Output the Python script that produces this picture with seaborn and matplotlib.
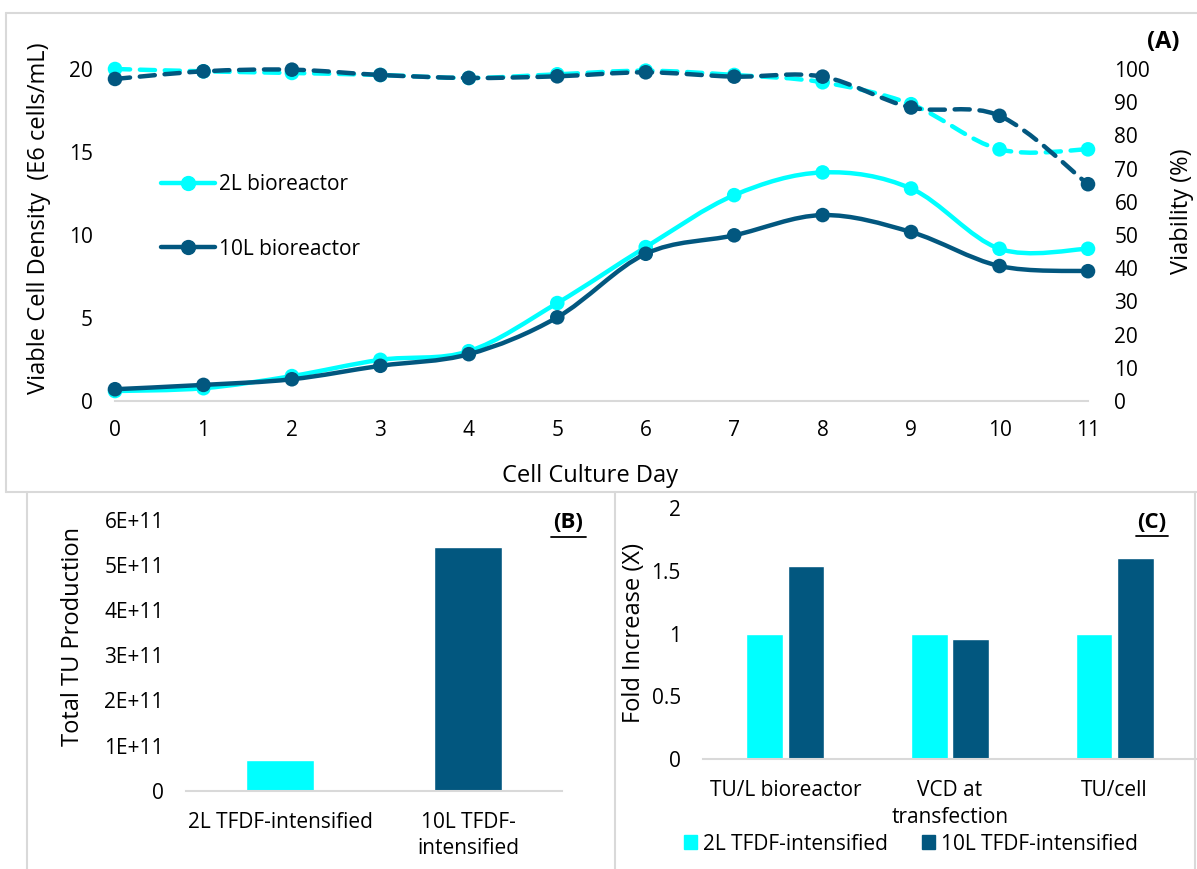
import numpy as np
import pandas as pd
import matplotlib
matplotlib.use('Agg')
import matplotlib.pyplot as plt
import seaborn as sns
from matplotlib.path import Path
from matplotlib.patches import PathPatch, Patch
from matplotlib.lines import Line2D

# Data
days = [0, 1, 2, 3, 4, 5, 6, 7, 8, 9, 10, 11]
vcd_2l = [0.6, 0.77, 1.5, 2.48, 3.0, 5.9, 9.27, 12.4, 13.77, 12.8, 9.17, 9.17]
vcd_10l = [0.71, 0.97, 1.31, 2.12, 2.82, 5.04, 8.87, 9.98, 11.2, 10.18, 8.13, 7.82]
via_2l = [100.0, 99.3, 98.8, 98.2, 97.3, 98.4, 99.5, 98.2, 96.0, 89.4, 75.8, 75.8]
via_10l = [97.0, 99.3, 99.8, 98.2, 97.3, 97.8, 99.0, 97.7, 97.7, 88.4, 85.9, 65.3]

b_categories = ['2L TFDF-intensified', '10L TFDF-\nintensified']
b_values = [6.8e10, 5.4e11]
b_ticks = [0, 1e11, 2e11, 3e11, 4e11, 5e11, 6e11]
b_ticklabels = ['0', '1E+11', '2E+11', '3E+11', '4E+11', '5E+11', '6E+11']

c_metrics = ['TU/L bioreactor', 'VCD at\ntransfection', 'TU/cell']
c_2l = [1.0, 1.0, 1.0]
c_10l = [1.54, 0.958, 1.6]
c_groups = ['2L TFDF-intensified', '10L TFDF-intensified']
c_ticks = [0, 0.5, 1, 1.5, 2]
c_ticklabels = ['0', '0.5', '1', '1.5', '2']

CYAN = '#00FFFF'
DARK = '#02577F'
GRID = '#d9d9d9'
W, H = 1197, 869

sns.set_theme(style='white')
plt.rcParams['font.family'] = ['Open Sans', 'DejaVu Sans']
plt.rcParams['text.color'] = 'black'
plt.rcParams['axes.labelcolor'] = 'black'
plt.rcParams['xtick.color'] = 'black'
plt.rcParams['ytick.color'] = 'black'
FS = 15      # tick labels, legends
FT = 17      # axis titles


def fx(px):
    return px / W


def fy(py):
    return 1 - py / H


def axes_rect(left, top, right, bottom):
    return [fx(left), fy(bottom), fx(right) - fx(left), fy(top) - fy(bottom)]


def smooth_path(x, y):
    """Excel-like smoothed line: cubic Bezier through the points."""
    n = len(x)
    verts = [(x[0], y[0])]
    codes = [Path.MOVETO]
    for i in range(n - 1):
        xa, ya = (x[i - 1], y[i - 1]) if i > 0 else (x[i], y[i])
        xd, yd = (x[i + 2], y[i + 2]) if i + 2 < n else (x[i + 1], y[i + 1])
        c1 = (x[i] + (x[i + 1] - xa) / 6, y[i] + (y[i + 1] - ya) / 6)
        c2 = (x[i + 1] - (xd - x[i]) / 6, y[i + 1] - (yd - y[i]) / 6)
        verts += [c1, c2, (x[i + 1], y[i + 1])]
        codes += [Path.CURVE4] * 3
    return Path(verts, codes)


def draw_series(ax, y, color, dashed, z):
    ls = (0, (3.4, 2.2)) if dashed else '-'
    patch = PathPatch(smooth_path(days, y), fill=False, edgecolor=color, lw=3.2,
                      linestyle=ls, capstyle='round', zorder=z, clip_on=False)
    ax.add_patch(patch)
    sns.scatterplot(x=days, y=y, ax=ax, color=color, s=110, edgecolor='none',
                    zorder=z + 1, clip_on=False, legend=False)


def style_axis(ax):
    for s in ['top', 'left', 'right']:
        ax.spines[s].set_visible(False)
    ax.spines['bottom'].set_color(GRID)
    ax.spines['bottom'].set_linewidth(1.5)
    ax.tick_params(length=0, labelsize=FS)
    ax.grid(False)


fig = plt.figure(figsize=(W / 100, H / 100), dpi=100)

# ---- Panel A ----
ax = fig.add_axes(axes_rect(115, 69, 1088, 401))
ax2 = ax.twinx()
draw_series(ax, vcd_2l, CYAN, False, 2)
draw_series(ax, vcd_10l, DARK, False, 4)
draw_series(ax2, via_2l, CYAN, True, 2)
draw_series(ax2, via_10l, DARK, True, 4)

ax.set_xlim(0, 11)
ax.set_ylim(0, 20)
ax2.set_ylim(0, 100)
ax.set_xticks(days)
ax.set_yticks([0, 5, 10, 15, 20])
ax2.set_yticks(range(0, 101, 10))
style_axis(ax)
style_axis(ax2)
ax2.spines['bottom'].set_visible(False)
ax.tick_params(axis='x', pad=14)
ax.tick_params(axis='y', pad=16)
ax2.tick_params(axis='y', pad=19)
ax.set_xlabel('Cell Culture Day', fontsize=FT)
ax.xaxis.set_label_coords(0.488, -0.19)
ax.set_ylabel('Viable Cell Density  (E6 cells/mL)', fontsize=FT)
ax.yaxis.set_label_coords(-0.066, 0.55)
ax2.set_ylabel('Viability (%)', fontsize=FT, rotation=90)
ax2.yaxis.set_label_coords(1.084, 0.572)

handles = [Line2D([], [], color=CYAN, lw=3.2, marker='o', markersize=10),
           Line2D([], [], color=DARK, lw=3.2, marker='o', markersize=10)]
ax2.legend(handles, ['2L bioreactor', '10L bioreactor'], loc='upper left',
           bbox_to_anchor=(fx(161), fy(174)), bbox_transform=fig.transFigure,
           frameon=False, fontsize=FS, handlelength=2.6, handletextpad=0.2,
           labelspacing=2.1, borderpad=0, borderaxespad=0)
fig.text(fx(1163), fy(42), '(A)', fontsize=FT, fontweight='bold',
         ha='center', va='center')

# ---- Panel B ----
axb = fig.add_axes(axes_rect(186, 520, 562, 790.7))
df_b = pd.DataFrame({'scale': b_categories, 'tu': b_values})
sns.barplot(data=df_b, x='scale', y='tu', hue='scale', palette=[CYAN, DARK],
            width=0.367, saturation=1, legend=False, ax=axb)
axb.set_xlim(-0.5, 1.5)
axb.set_ylim(0, 6e11)
axb.set_yticks(b_ticks)
axb.set_yticklabels(b_ticklabels)
style_axis(axb)
axb.tick_params(axis='x', pad=15)
axb.tick_params(axis='y', pad=16)
for t in axb.get_xticklabels():
    t.set_linespacing(1.35)
axb.set_xlabel('')
axb.set_ylabel('Total TU Production', fontsize=FT)
axb.yaxis.set_label_coords(-0.269, 0.571)
fig.text(fx(568), fy(523), '(B)', fontsize=FS + 1, fontweight='bold',
         ha='center', va='center')
fig.add_artist(Line2D([fx(551), fx(586)], [fy(537), fy(537)], color='black', lw=1.3))

# ---- Panel C ----
axc = fig.add_axes(axes_rect(703, 508, 1197, 759.3))
df_c = pd.DataFrame({
    'metric': c_metrics * 2,
    'group': [c_groups[0]] * 3 + [c_groups[1]] * 3,
    'fold': c_2l + c_10l,
})
sns.barplot(data=df_c, x='metric', y='fold', hue='group', palette=[CYAN, DARK],
            width=0.505, gap=0.12, saturation=1, legend=False, ax=axc)
axc.set_xlim(-0.5, 2.5)
axc.set_ylim(0, 2)
axc.set_yticks(c_ticks)
axc.set_yticklabels(c_ticklabels)
style_axis(axc)
axc.tick_params(axis='x', pad=15)
axc.tick_params(axis='y', pad=16)
for t in axc.get_xticklabels():
    t.set_linespacing(1.35)
axc.set_xlabel('')
axc.set_ylabel('Fold Increase (X)', fontsize=FT)
axc.yaxis.set_label_coords(-0.115, 0.503)
fig.text(fx(1152), fy(523), '(C)', fontsize=FS + 1, fontweight='bold',
         ha='center', va='center')
fig.add_artist(Line2D([fx(1136), fx(1168)], [fy(536), fy(536)], color='black', lw=1.3))

fig.legend([Patch(color=CYAN), Patch(color=DARK)], c_groups, loc='center',
           bbox_to_anchor=(fx(911), fy(844)), ncol=2, frameon=False,
           fontsize=FS, handlelength=0.65, handleheight=0.65,
           handletextpad=0.3, columnspacing=1.6, borderpad=0)

# ---- panel borders ----
for (x0, y0, x1, y1) in [(6, 13, W, 13), (6, 13, 6, 492), (6, 492, W, 492),
                         (27, 492, 27, H), (615, 492, 615, H), (1195, 492, 1195, H)]:
    fig.add_artist(Line2D([fx(x0), fx(x1)], [fy(y0), fy(y1)], color=GRID, lw=1.5))

fig.savefig('out.png', dpi=100)
